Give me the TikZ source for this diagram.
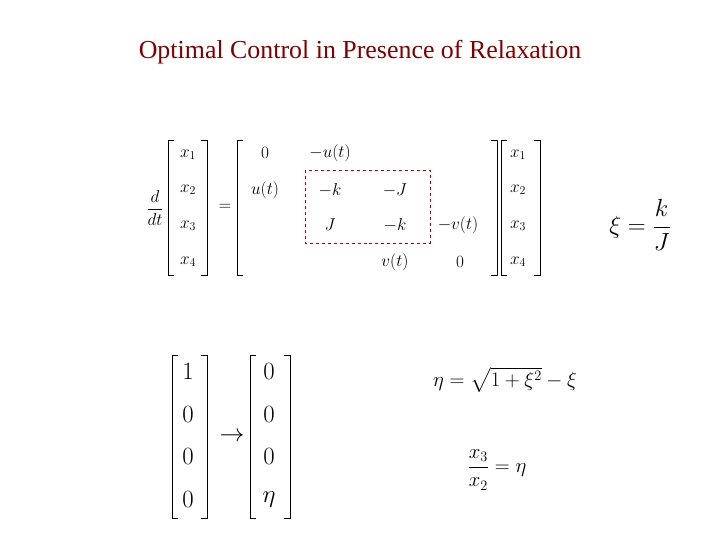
\documentclass[tikz,border=0pt]{standalone}
\usepackage{amsmath}
\usepackage{fontspec}
\setmainfont{Liberation Serif}
\begin{document}
\begin{tikzpicture}[x=1bp,y=-1bp,
  e/.style={font=\fontsize{17}{20}\selectfont},
  bg/.style={font=\fontsize{24}{28}\selectfont},
  br/.style={line width=0.8bp}]
\useasboundingbox (0,0) rectangle (720,540);
\node[text=red!50!black,font=\fontsize{26}{30}\selectfont] (title) at (360,52) {Optimal Control in Presence of Relaxation};
% brackets
\newcommand\lbr[4]{\draw[br] (#1+6,#3) -- (#1,#3) -- (#1,#4) -- (#1+6,#4);\draw[br] (#2-6,#3) -- (#2,#3) -- (#2,#4) -- (#2-6,#4);}
\lbr{168}{207}{140}{275}
\lbr{237}{497}{140}{275}
\lbr{501}{540}{140}{275}
\node[e] (ddt) at (155,208) {$\dfrac{d}{dt}$};
\node[e] (eq) at (225,207) {$=$};
\foreach \i/\y in {1/155,2/190,3/226,4/262}{
 \node[e] (l\i) at (188,\y) {$x_{\i}$};
 \node[e] (r\i) at (518,\y) {$x_{\i}$};}
\node[e] (m11) at (265,153) {$0$};
\node[e] (m12) at (330,153) {$-u(t)$};
\node[e] (m21) at (265,190) {$u(t)$};
\node[e] (m22) at (330,190) {$-k$};
\node[e] (m23) at (395,190) {$-J$};
\node[e] (m32) at (330,225) {$J$};
\node[e] (m33) at (395,225) {$-k$};
\node[e] (m34) at (458,225) {$-v(t)$};
\node[e] (m43) at (395,262) {$v(t)$};
\node[e] (m44) at (460,262) {$0$};
\draw[red!70!black,dashed] (305,170) rectangle (430,243);
\node[font=\fontsize{26}{30}\selectfont] (xi) at (640,225) {$\xi=\dfrac{k}{J}$};
% bottom
\lbr{172}{207}{355}{518}
\lbr{250}{290}{355}{518}
\foreach \v/\y in {1/372,0/415,0/457,0/500}{\node[bg] at (188,\y) {$\v$};}
\foreach \v/\y in {0/372,0/415,0/457,\eta/500}{\node[bg] at (269,\y) {$\v$};}
\node[bg] (arr) at (232,437) {$\rightarrow$};
\node[font=\fontsize{22}{26}\selectfont] (eta) at (505,380) {$\eta=\sqrt{1+\xi^2}-\xi$};
\node[font=\fontsize{20}{24}\selectfont] (ratio) at (497,470) {$\dfrac{x_3}{x_2}=\eta$};
\end{tikzpicture}
\end{document}
